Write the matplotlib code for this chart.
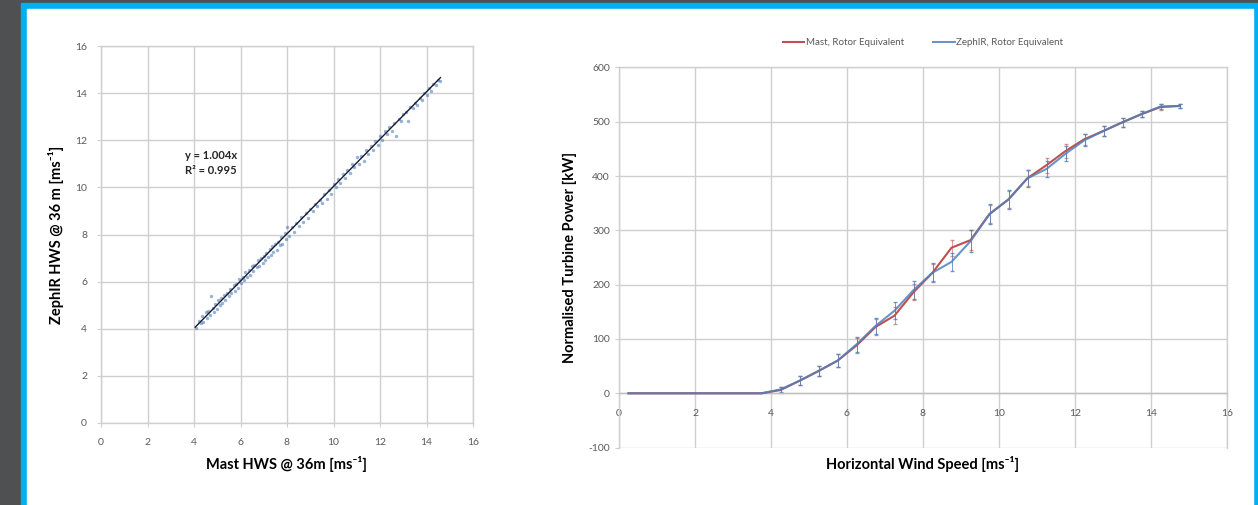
import matplotlib.pyplot as plt
import numpy as np
from matplotlib.patches import Rectangle

# ---- data: left scatter (mast vs ZephIR horizontal wind speed) ----
mast_hws = [4.1, 4.2, 4.3, 4.35, 4.4, 4.5, 4.55, 4.6, 4.7, 4.75, 4.8, 4.85, 4.9,
            5.0, 5.05, 5.1, 5.15, 5.2, 5.3, 5.35, 5.4, 5.5, 5.55, 5.6, 5.7, 5.75,
            5.8, 5.9, 5.95, 6.0, 6.1, 6.15, 6.2, 6.3, 6.35, 6.4, 6.5, 6.55, 6.6,
            6.7, 6.75, 6.8, 6.9, 6.95, 7.0, 7.05, 7.1, 7.2, 7.25, 7.3, 7.35, 7.4,
            7.5, 7.55, 7.6, 7.7, 7.75, 7.8, 7.9, 7.95, 8.0, 8.1, 8.2, 8.3, 8.4,
            8.5, 8.6, 8.7, 8.8, 8.9, 9.0, 9.1, 9.2, 9.3, 9.4, 9.5, 9.6, 9.7, 9.8,
            9.9, 10.0, 10.1, 10.2, 10.3, 10.4, 10.5, 10.6, 10.7, 10.8, 10.9, 11.0,
            11.1, 11.2, 11.3, 11.4, 11.5, 11.6, 11.7, 11.8, 11.9, 12.0, 12.1, 12.2,
            12.3, 12.4, 12.5, 12.6, 12.7, 12.8, 12.9, 13.0, 13.1, 13.2, 13.3, 13.4,
            13.5, 13.6, 13.7, 13.8, 13.9, 14.0, 14.1, 14.2, 14.3, 14.4, 14.5, 14.6]
zephir_hws = [4.05, 4.35, 4.25, 4.55, 4.3, 4.7, 4.45, 4.75, 4.6, 5.4, 4.9, 4.7, 5.05,
              4.85, 5.2, 5.0, 5.3, 5.1, 5.45, 5.2, 5.5, 5.4, 5.7, 5.5, 5.85, 5.6,
              5.9, 5.75, 6.1, 5.95, 6.2, 6.05, 6.4, 6.2, 6.5, 6.3, 6.65, 6.45, 6.7,
              6.6, 6.9, 6.65, 7.0, 6.8, 7.1, 6.9, 7.2, 7.05, 7.4, 7.15, 7.5, 7.25,
              7.6, 7.35, 7.7, 7.55, 7.9, 7.6, 8.05, 7.8, 8.3, 7.95, 8.3, 8.1, 8.5,
              8.35, 8.75, 8.55, 8.9, 8.7, 9.1, 9.0, 9.3, 9.2, 9.45, 9.35, 9.7, 9.5, 9.9,
              9.7, 10.15, 10.0, 10.35, 10.2, 10.55, 10.4, 10.75, 10.6, 11.0, 10.85, 11.3,
              11.0, 11.35, 11.1, 11.6, 11.4, 11.75, 11.6, 11.95, 11.8, 12.2, 12.0, 12.4,
              12.25, 12.55, 12.4, 12.75, 12.2, 12.9, 12.8, 13.1, 13.2, 12.8, 13.4, 13.35,
              13.6, 13.5, 13.8, 13.7, 14.0, 13.9, 14.2, 14.1, 14.4, 14.35, 14.55, 14.5]
fit_slope = 1.004
fit_text = 'y = 1.004x\nR² = 0.995'

# ---- data: right power curve (bin centres, kW) ----
wind_bins = [0.25, 0.75, 1.25, 1.75, 2.25, 2.75, 3.25, 3.75, 4.25, 4.75, 5.25, 5.75,
             6.25, 6.75, 7.25, 7.75, 8.25, 8.75, 9.25, 9.75, 10.25, 10.75, 11.25,
             11.75, 12.25, 12.75, 13.25, 13.75, 14.25, 14.75]
power_mast = [0, 0, 0, 0, 0, 0, 0, 0, 6, 23, 41, 60, 88, 122, 143, 186, 222, 268, 282,
              330, 357, 396, 420, 446, 468, 483, 499, 514, 527, 529]
power_zephir = [0, 0, 0, 0, 0, 0, 0, 0, 7, 23, 41, 60, 90, 124, 152, 190, 222, 242, 280,
                330, 357, 396, 413, 441, 466, 483, 499, 514, 528, 529]
err_mast = [0, 0, 0, 0, 0, 0, 0, 0, 5, 8, 10, 12, 13, 14, 15, 15, 16, 15, 18, 17, 16,
            15, 14, 13, 10, 9, 8, 6, 5, 4]
err_zephir = [0, 0, 0, 0, 0, 0, 0, 0, 5, 8, 10, 12, 14, 15, 16, 16, 18, 16, 20, 18, 17,
              16, 15, 14, 11, 9, 8, 6, 5, 4]
series_names = ['Mast, Rotor Equivalent', 'ZephIR, Rotor Equivalent']

RED = '#c0504d'
BLUE = '#4f81bd'
GRID = '#cfcfcf'
TICK = '#595959'

plt.rcParams['font.family'] = ['Lato', 'DejaVu Sans']
plt.rcParams['axes.unicode_minus'] = False

fig = plt.figure(figsize=(12.58, 5.05), dpi=100)
W, H = 1258, 505
# page background: dark grey, blue frame, white panel
fig.patches.append(Rectangle((0, 0), 1, 1, transform=fig.transFigure, color='#4e5052', zorder=-3))
fig.patches.append(Rectangle((20.5 / W, 0), 1, 1 - 3.3 / H, transform=fig.transFigure,
                             color='#00b0f0', zorder=-2))
fig.patches.append(Rectangle((26.5 / W, 0), (1253 - 26.5) / W, 1 - 9.3 / H,
                             transform=fig.transFigure, color='white', zorder=-1))


def style_axes(ax):
    ax.grid(True, color=GRID, lw=1.0)
    ax.set_axisbelow(True)
    for s in ax.spines.values():
        s.set_color(GRID)
        s.set_linewidth(1.0)
    ax.tick_params(colors=GRID, labelcolor=TICK, labelsize=7.5, length=3, width=0.8)
    ax.set_facecolor('none')


# ---- left: scatter ----
ax1 = fig.add_axes([101 / W, 1 - 423 / H, (473 - 101) / W, (423 - 46) / H])
style_axes(ax1)
ax1.tick_params(axis='x', pad=8)
ax1.tick_params(axis='y', pad=7)
ax1.scatter(mast_hws, zephir_hws, s=6, color=BLUE, alpha=0.6, lw=0, zorder=2)
xr = np.array([min(mast_hws) - 0.05, max(mast_hws)])
ax1.plot(xr, fit_slope * xr, color='#1a1a2e', lw=1.0, zorder=3)
ax1.text(3.6, 10.55, fit_text, fontsize=8, fontweight='bold', color='#262626',
         linespacing=1.45)
ax1.set_xlim(0, 16)
ax1.set_ylim(0, 16)
ax1.set_xticks(np.arange(0, 17, 2))
ax1.set_yticks(np.arange(0, 17, 2))
ax1.set_xlabel('Mast HWS @ 36m [ms⁻¹]', fontsize=10.5, fontweight='bold', labelpad=6)
ax1.set_ylabel('ZephIR HWS @ 36 m [ms⁻¹]', fontsize=10.5, fontweight='bold', labelpad=8)

# ---- right: power curve ----
ax2 = fig.add_axes([619 / W, 1 - 447.6 / H, (1227 - 619) / W, (447.6 - 67.4) / H])
style_axes(ax2)
ax2.tick_params(axis='x', pad=8)
wb = np.array(wind_bins)
on = wb > 4
ax2.errorbar(wb[on], np.array(power_mast)[on], yerr=np.array(err_mast)[on], fmt='none',
             ecolor=RED, elinewidth=0.7, capsize=1.5, alpha=0.6, zorder=2)
ax2.errorbar(wb[on], np.array(power_zephir)[on], yerr=np.array(err_zephir)[on], fmt='none',
             ecolor=BLUE, elinewidth=0.7, capsize=1.5, alpha=0.8, zorder=2)
ax2.plot(wind_bins, power_mast, color=RED, lw=1.5, label=series_names[0], zorder=3)
ax2.plot(wind_bins, power_zephir, color=BLUE, lw=1.5, alpha=0.85, label=series_names[1], zorder=4)
ax2.set_xlim(0, 16)
ax2.set_ylim(-100, 600)
ax2.set_xticks(np.arange(0, 17, 2))
ax2.set_yticks(np.arange(-100, 601, 100))
ax2.spines['bottom'].set_position(('data', 0))
ax2.spines['bottom'].set_color('#bfbfbf')
ax2.set_xlabel('Horizontal Wind Speed [ms⁻¹]', fontsize=10.5, fontweight='bold')
ax2.xaxis.set_label_coords(0.5, -0.022)
ax2.set_ylabel('Normalised Turbine Power [kW]', fontsize=10.5, fontweight='bold', labelpad=8)
leg = ax2.legend(loc='lower center', bbox_to_anchor=(0.5, 1.03), ncol=2, frameon=False,
                 fontsize=7, handlelength=2.2, columnspacing=3, handletextpad=0.2)
for t in leg.get_texts():
    t.set_color(TICK)

fig.savefig('out.png', dpi=100)
